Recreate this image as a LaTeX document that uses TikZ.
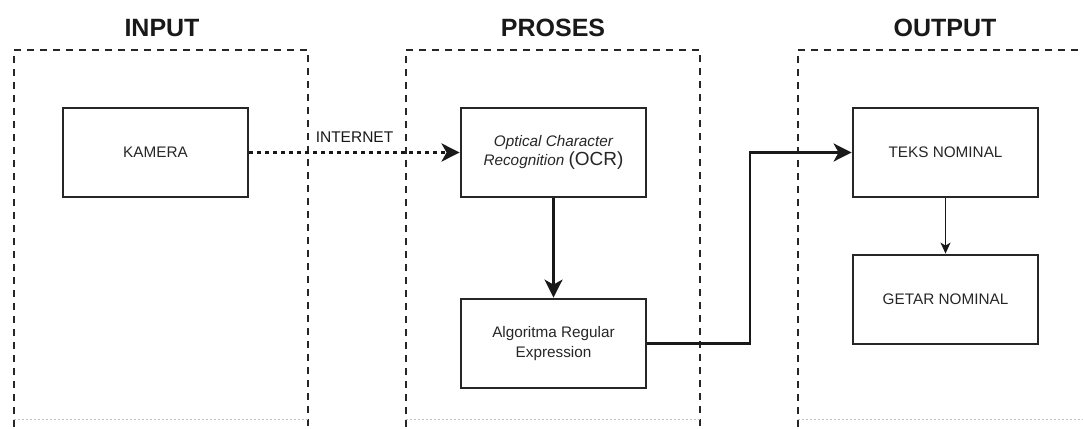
\documentclass[tikz,border=0pt]{standalone}
\usepackage{fontspec}
\setmainfont{Liberation Sans}
\usetikzlibrary{arrows.meta}
\begin{document}
\begin{tikzpicture}[x=1pt,y=-1pt,
  proc/.style={draw=black!85,line width=2.8pt,minimum width=185pt,minimum height=89pt,align=center,font=\fontsize{15.3}{19.5}\selectfont,text=black!85,inner sep=2pt},
  title/.style={font=\bfseries\fontsize{25}{27}\selectfont,text=black!90},
  group/.style={draw=black!85,line width=2.2pt,dash pattern=on 7pt off 6pt},
  faint/.style={draw=black!25,line width=1pt,dash pattern=on 2pt off 2pt},
  conn/.style={draw=black!90,line width=2.6pt,-{Stealth[length=18pt,width=18pt,inset=5pt]}}]
\useasboundingbox (0,0) rectangle (1083,428);
\begin{scope}
\clip (0,0) rectangle (1083,428);
% groups
\draw[group] (14,440) -- (14,50) -- (308,50) -- (308,440);
\draw[group] (406,440) -- (406,50) -- (700,50) -- (700,440);
\draw[group] (798,440) -- (798,50) -- (1100,50);
\draw[faint] (14,419) -- (308,419);
\draw[faint] (406,419) -- (700,419);
\draw[faint] (798,419) -- (1083,419);
\end{scope}
% titles
\node[title] (tin) at (162,28) {INPUT};
\node[title] (tpr) at (553,28) {PROSES};
\node[title] (tout) at (945,28) {OUTPUT};
% boxes
\node[proc] (kam) at (155.5,152.5) {KAMERA};
\node[proc] (ocr) at (553.5,152.5) {\itshape Optical Character\\ {\itshape Recognition} {\fontsize{19}{20}\selectfont (OCR)}};
\node[proc] (alg) at (553.5,343.5) {Algoritma Regular\\Expression};
\node[proc] (teks) at (945.5,152.5) {TEKS NOMINAL};
\node[proc] (getar) at (945.5,299.5) {GETAR NOMINAL};
% connectors
\draw[conn,line width=3.5pt,dash pattern=on 3.5pt off 4.5pt] (kam.east) -- node[above=5pt,font=\fontsize{15.5}{17}\selectfont,text=black!90] {INTERNET} (ocr.west);
\draw[conn] (ocr.south) -- (alg.north);
\coordinate (bend) at (750,343.5);
\draw[conn] (alg.east) -- (bend) |- (teks.west);
\draw[draw=black!90,line width=1.4pt,-{Stealth[length=11pt,width=10pt,inset=3pt]}] (teks.south) -- (getar.north);
\end{tikzpicture}
\end{document}
